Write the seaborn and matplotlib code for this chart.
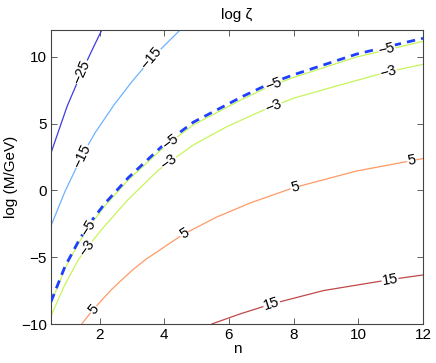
import matplotlib
matplotlib.use("Agg")
import matplotlib.pyplot as plt
import numpy as np
import seaborn as sns

sns.set_style("ticks")
plt.rcParams['font.family'] = ['Liberation Sans', 'DejaVu Sans']
plt.rcParams['text.color'] = 'black'
plt.rcParams['axes.labelcolor'] = 'black'

# contour lines of log zeta as (n, log M) points
n_m25 = [0.5, 1.0, 1.45, 1.76, 2.07]
y_m25 = [2.8, 6.3, 8.85, 10.45, 12.0]

n_m15 = [0.5, 0.93, 1.45, 1.86, 2.45, 3.0, 3.61, 4.49]
y_m15 = [-2.65, -0.1, 2.55, 4.3, 6.4, 8.13, 9.88, 12.0]

n_m5 = [0.5, 0.93, 1.34, 1.65, 2.17, 2.89, 4.02, 4.9, 6.44, 7.27, 8.0, 9.95, 12.0]
y_m5 = [-8.45, -5.85, -4.0, -2.8, -1.15, 0.78, 3.3, 4.9, 6.85, 7.8, 8.45, 9.98, 11.15]

n_m3 = [0.5, 0.9, 1.34, 1.6, 2.05, 2.87, 3.82, 4.9, 5.93, 6.96, 8.0, 9.43, 10.93, 12.0]
y_m3 = [-9.4, -7.2, -5.21, -4.34, -2.97, -0.72, 1.52, 3.4, 4.76, 5.89, 6.9, 7.88, 8.88, 9.43]

n_p5 = [1.45, 1.81, 2.38, 3.0, 3.41, 4.33, 4.62, 5.62, 6.65, 8.0, 9.95, 11.65, 12.0]
y_p5 = [-10.0, -8.9, -7.4, -6.0, -5.2, -3.7, -3.25, -2.0, -0.95, 0.2, 1.45, 2.22, 2.38]

n_p15 = [5.47, 6.34, 7.32, 8.92, 10.98, 12.0]
y_p15 = [-10.0, -9.25, -8.5, -7.5, -6.68, -6.33]

# the dashed curve
n_dash = [0.5, 0.93, 1.34, 1.65, 2.17, 2.89, 4.02, 4.9, 6.44, 7.27, 8.0, 9.95, 12.0]
y_dash = [-8.33, -5.71, -3.85, -2.6, -0.97, 0.95, 3.5, 5.1, 7.05, 8.0, 8.65, 10.2, 11.38]

# label positions along each contour
labels = {
    '\u221225': [(1.45, 8.85)],
    '\u221215': [(1.45, 2.55), (3.61, 9.88)],
    '\u22125': [(1.65, -2.8), (4.18, 3.6), (7.37, 7.9), (10.88, 10.6)],
    '\u22123': [(1.6, -4.34), (4.15, 2.1), (7.37, 6.3), (10.93, 8.88)],
    '5': [(1.81, -8.9), (4.62, -3.25), (8.04, 0.22), (11.65, 2.22)],
    '15': [(7.32, -8.5), (10.98, -6.68)],
}

contours = [
    ('\u221225', n_m25, y_m25, '#3c3ce0'),
    ('\u221215', n_m15, y_m15, '#6eb2ff'),
    ('\u22125', n_m5, y_m5, '#c6f55a'),
    ('\u22123', n_m3, y_m3, '#c6f55a'),
    ('5', n_p5, y_p5, '#ff9a66'),
    ('15', n_p15, y_p15, '#c04848'),
]

fig = plt.figure(figsize=(4.36, 3.63), dpi=100)
ax = fig.add_axes([51 / 436, 1 - 324 / 363, 372 / 436, 294 / 363])
ax.set_xlim(0.5, 12)
ax.set_ylim(-10, 12)

for name, xs, ys, col in contours:
    sns.lineplot(x=xs, y=ys, sort=False, estimator=None, color=col,
                 linewidth=0.9, ax=ax, zorder=2)

sns.lineplot(x=n_dash, y=y_dash, sort=False, estimator=None, color='#1f3fff',
             linewidth=2.0, linestyle=(0, (3, 2.2)), ax=ax, zorder=3)

fig.canvas.draw()
for name, xs, ys, col in contours:
    for (lx, ly) in labels[name]:
        # local direction of the line, in screen space
        i = int(np.clip(np.searchsorted(xs, lx), 1, len(xs) - 1))
        p0 = ax.transData.transform((xs[i - 1], ys[i - 1]))
        p1 = ax.transData.transform((xs[i], ys[i]))
        ang = np.degrees(np.arctan2(p1[1] - p0[1], p1[0] - p0[0]))
        ax.text(lx, ly, name, rotation=ang, rotation_mode='anchor',
                ha='center', va='center', fontsize=10.5, zorder=4,
                bbox=dict(facecolor='white', edgecolor='none', pad=0.3))

ax.set_xticks([2, 4, 6, 8, 10, 12])
ax.set_yticks([-10, -5, 0, 5, 10])
ax.set_yticklabels(['\u221210', '\u22125', '0', '5', '10'])
ax.tick_params(direction='in', length=4, width=0.6, top=True, right=True,
               labelsize=11, color='#444444', labelcolor='black', pad=3)
for s in ax.spines.values():
    s.set_color('#444444')
    s.set_linewidth(0.8)

ax.set_xlabel('n', fontsize=11, labelpad=0)
ax.set_ylabel('log (M/GeV)', fontsize=11, labelpad=2)
ax.set_title('log \u03b6', fontsize=11, pad=8)

fig.savefig('out.png', dpi=100)
